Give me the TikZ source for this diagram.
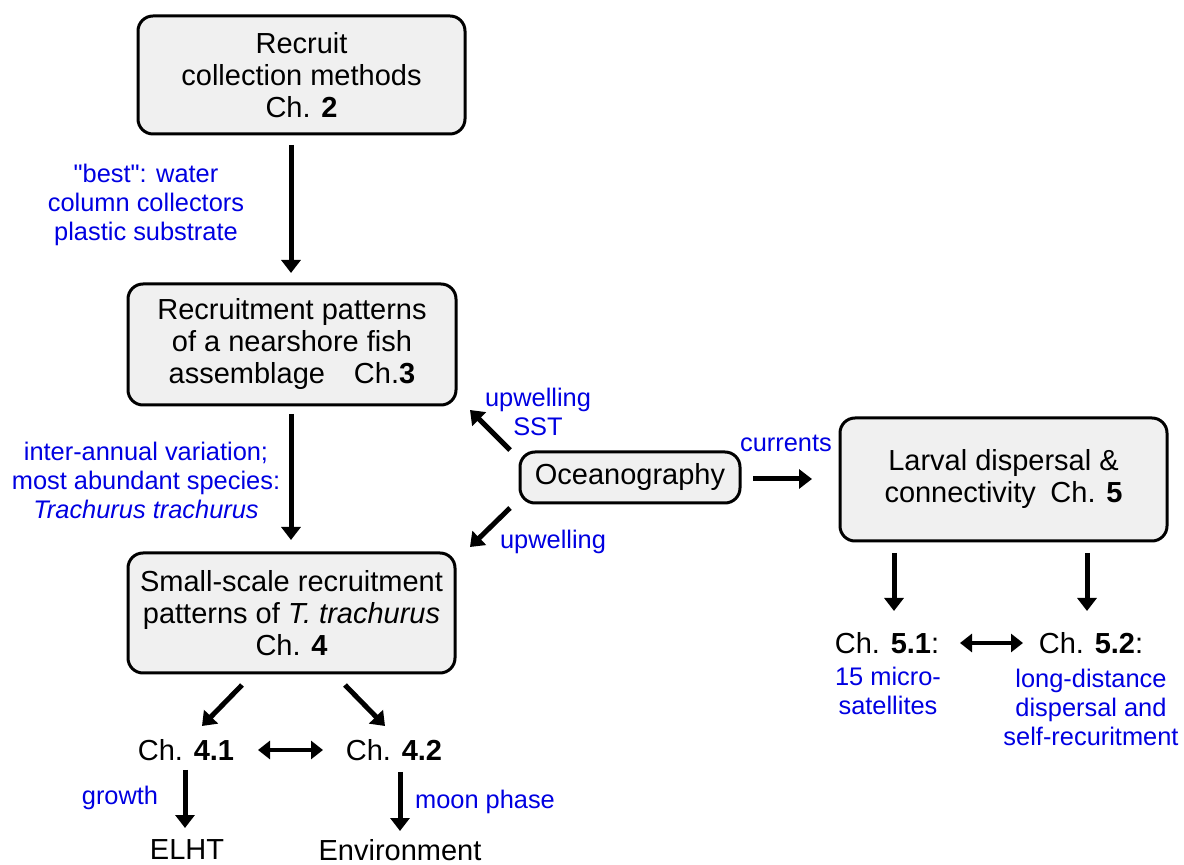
\documentclass[tikz,border=0pt]{standalone}
\usepackage{fontspec}
\setmainfont{Liberation Sans}
\usetikzlibrary{arrows.meta}
\definecolor{labelblue}{RGB}{0,0,225}
\definecolor{boxfill}{RGB}{240,240,240}
\begin{document}
\begin{tikzpicture}[x=0.5pt,y=-0.5pt,
  chbox/.style={draw=black, line width=1.5pt, fill=boxfill, rounded corners=7.5pt,
    align=center, font=\fontsize{14.5}{16}\selectfont, inner sep=0pt},
  plain/.style={align=center, font=\fontsize{14.5}{16}\selectfont, inner sep=0pt},
  note/.style={align=center, text=labelblue, font=\fontsize{12.7}{14.5}\selectfont, inner sep=0pt},
  arr/.style={line width=2.5pt, -{Triangle[length=6.5pt 0,width=9.5pt 0]}},
  darr/.style={line width=2.3pt, {Triangle[length=6pt 0,width=9pt 0]}-{Triangle[length=6pt 0,width=9pt 0]}},
]
\useasboundingbox (0,0) rectangle (1184,865);

% chapter boxes
\node[chbox, minimum width=163.5pt, minimum height=59pt] (c2) at (301.5,75)
  {Recruit\\collection methods\\Ch. \textbf{2}};
\node[chbox, minimum width=164pt, minimum height=60.5pt] (c3) at (292,344.5)
  {Recruitment patterns\\of a nearshore fish\\assemblage\quad Ch.\textbf{3}};
\node[chbox, minimum width=163.5pt, minimum height=60pt] (c4) at (291.5,613)
  {Small-scale recruitment\\patterns of \textit{T. trachurus}\\Ch. \textbf{4}};
\node[chbox, minimum width=110pt, minimum height=25.5pt] (oc) at (630,477.5)
  {Oceanography};
\node[chbox, minimum width=163.5pt, minimum height=61.5pt] (c5) at (1003.5,479.5)
  {Larval dispersal \&\\connectivity\enspace Ch. \textbf{5}};

% sub-chapter labels
\node[plain] (c41) at (186,750) {Ch. \textbf{4.1}};
\node[plain] (c42) at (394,750) {Ch. \textbf{4.2}};
\node[plain] (elht) at (187,850) {ELHT};
\node[plain] (env) at (400,850) {Environment};
\node[plain] (c51) at (887,643) {Ch. \textbf{5.1}:};
\node[plain] (c52) at (1091,643) {Ch. \textbf{5.2}:};

% blue annotations
\node[note] (nbest) at (146,205) {\textquotedbl best\textquotedbl: water\\column collectors\\plastic substrate};
\node[note] (nvar) at (146,480) {inter-annual variation;\\most abundant species:\\\textit{Trachurus trachurus}};
\node[note] (nup1) at (538,412) {upwelling\\SST};
\node[note] (ncur) at (786,443) {currents};
\node[note] (nup2) at (553,542) {upwelling};
\node[note] (ngrow) at (120,798) {growth};
\node[note] (nmoon) at (485,802) {moon phase};
\node[note] (nsat) at (888,691) {15 micro-\\satellites};
\node[note] (nlong) at (1091,707) {long-distance\\dispersal and\\self-recuritment};

% arrow end points
\coordinate (a1s) at (291,145);  \coordinate (a1e) at (291,273);
\coordinate (a2s) at (291,414);  \coordinate (a2e) at (291,540);
\coordinate (o1s) at (510,450);  \coordinate (o1e) at (470,410);
\coordinate (o2s) at (510,508);  \coordinate (o2e) at (470,547);
\coordinate (o3s) at (753,479);  \coordinate (o3e) at (812,479);
\coordinate (b41s) at (242,685); \coordinate (b41e) at (202,726);
\coordinate (b42s) at (345,685); \coordinate (b42e) at (385,726);
\coordinate (d4s) at (258,750);  \coordinate (d4e) at (323,750);
\coordinate (g1s) at (185,770);  \coordinate (g1e) at (185,828);
\coordinate (g2s) at (400,772);  \coordinate (g2e) at (400,831);
\coordinate (l1s) at (894,553);  \coordinate (l1e) at (894,611);
\coordinate (l2s) at (1087,553); \coordinate (l2e) at (1087,611);
\coordinate (d5s) at (960,643);  \coordinate (d5e) at (1023,643);

% connectors
\draw[arr] (a1s) -- (a1e);
\draw[arr] (a2s) -- (a2e);
\draw[arr] (o1s) -- (o1e);
\draw[arr] (o2s) -- (o2e);
\draw[arr] (o3s) -- (o3e);
\draw[arr] (b41s) -- (b41e);
\draw[arr] (b42s) -- (b42e);
\draw[darr] (d4s) -- (d4e);
\draw[arr] (g1s) -- (g1e);
\draw[arr] (g2s) -- (g2e);
\draw[arr] (l1s) -- (l1e);
\draw[arr] (l2s) -- (l2e);
\draw[darr] (d5s) -- (d5e);
\end{tikzpicture}
\end{document}
